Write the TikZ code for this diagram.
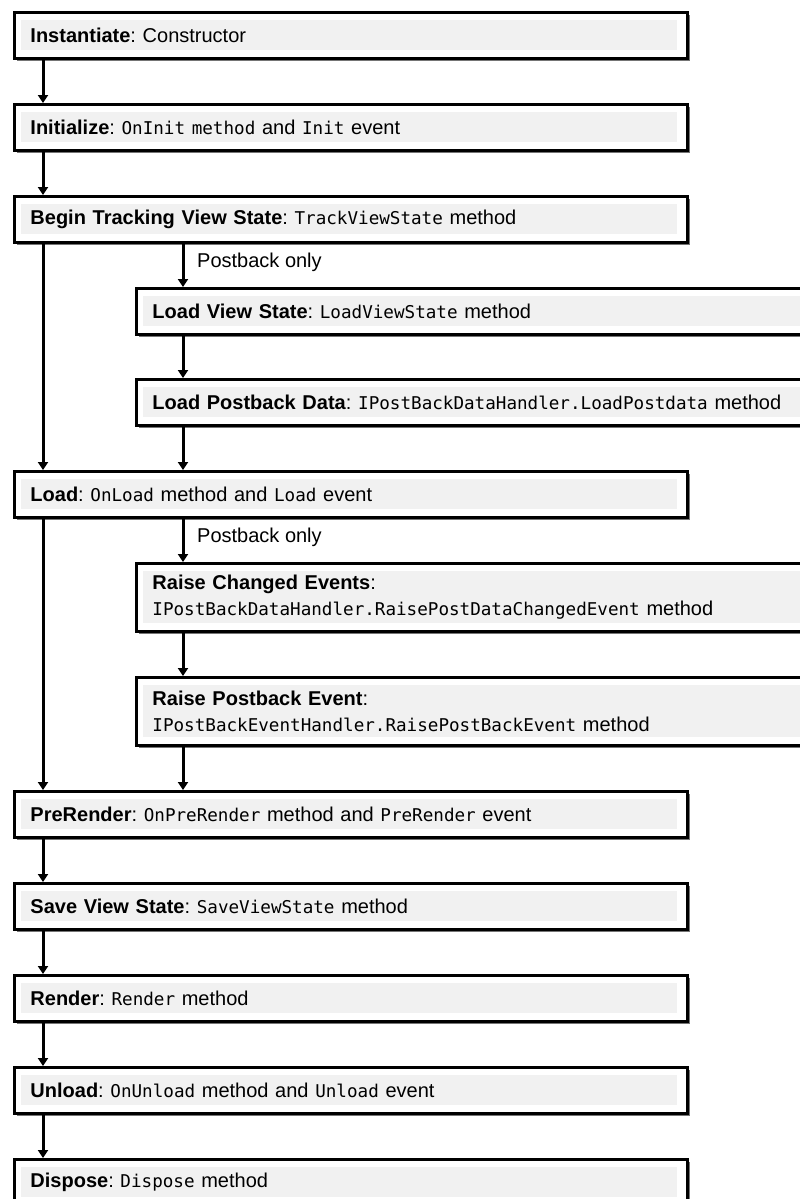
\documentclass[tikz,border=0pt]{standalone}
\usepackage{fontspec}
\setmainfont{Liberation Sans}
\newfontfamily\codefont{DejaVu Sans Mono}
\usetikzlibrary{arrows.meta,shadows}
\definecolor{boxgray}{HTML}{F1F1F1}
\frenchspacing
\newcommand\cd[1]{{\codefont\fontsize{17.6}{26}\selectfont #1}}
\begin{document}
\begin{tikzpicture}[x=1pt,y=-1pt,
  box/.style={draw=black, line width=2.9pt, fill=white, rectangle, anchor=north west,
    inner xsep=16pt, inner ysep=2pt, align=left, font=\fontsize{20}{26}\selectfont\frenchspacing,
    drop shadow={shadow xshift=2.5pt,shadow yshift=-2.5pt,fill=black!60,opacity=0.9},
    path picture={\fill[boxgray] ([shift={(7pt,-8pt)}]path picture bounding box.north west) rectangle ([shift={(-10pt,8pt)}]path picture bounding box.south east);}},
  mainbox/.style={box, text width=641pt, minimum height=46pt},
  subbox/.style={box, text width=653pt, minimum height=46pt},
  arr/.style={line width=3pt, -{Triangle[length=8pt,width=10pt]}},
  lbl/.style={font=\fontsize{20}{24}\selectfont, anchor=west, inner sep=0pt}
]
\useasboundingbox (0,0) rectangle (800,1199);
\coordinate (mx) at (43,0);
\coordinate (sx) at (183,0);

\node[mainbox] (inst) at (13,11) {\textbf{Instantiate}: Constructor};
\node[mainbox] (init) at (13,103) {\textbf{Initialize}: \cd{OnInit method} and \cd{Init} event};
\node[mainbox] (track) at (13,195) {\textbf{Begin Tracking View State}: \cd{TrackViewState} method};
\node[subbox] (lvs) at (135,287) {\textbf{Load View State}: \cd{LoadViewState} method};
\node[subbox] (lpd) at (135,378) {\textbf{Load Postback Data}: \cd{IPostBackDataHandler.LoadPostdata} method};
\node[mainbox] (load) at (13,470) {\textbf{Load}: \cd{OnLoad} method and \cd{Load} event};
\node[subbox, minimum height=68pt] (rce) at (135,562) {\textbf{Raise Changed Events}:\\\cd{IPostBackDataHandler.RaisePostDataChangedEvent} method};
\node[subbox, minimum height=68pt] (rpe) at (135,676) {\textbf{Raise Postback Event}:\\\cd{IPostBackEventHandler.RaisePostBackEvent} method};
\node[mainbox] (pre) at (13,790) {\textbf{PreRender}: \cd{OnPreRender} method and \cd{PreRender} event};
\node[mainbox] (svs) at (13,882) {\textbf{Save View State}: \cd{SaveViewState} method};
\node[mainbox] (rend) at (13,974) {\textbf{Render}: \cd{Render} method};
\node[mainbox] (unl) at (13,1066) {\textbf{Unload}: \cd{OnUnload} method and \cd{Unload} event};
\node[mainbox] (disp) at (13,1158) {\textbf{Dispose}: \cd{Dispose} method};

\node[lbl] (pb1) at (197,262) {Postback only};
\node[lbl] (pb2) at (197,537) {Postback only};

\draw[arr] (inst.south -| mx) -- (init.north -| mx);
\draw[arr] (init.south -| mx) -- (track.north -| mx);
\draw[arr] (track.south -| mx) -- (load.north -| mx);
\draw[arr] (track.south -| sx) -- (lvs.north -| sx);
\draw[arr] (lvs.south -| sx) -- (lpd.north -| sx);
\draw[arr] (lpd.south -| sx) -- (load.north -| sx);
\draw[arr] (load.south -| mx) -- (pre.north -| mx);
\draw[arr] (load.south -| sx) -- (rce.north -| sx);
\draw[arr] (rce.south -| sx) -- (rpe.north -| sx);
\draw[arr] (rpe.south -| sx) -- (pre.north -| sx);
\draw[arr] (pre.south -| mx) -- (svs.north -| mx);
\draw[arr] (svs.south -| mx) -- (rend.north -| mx);
\draw[arr] (rend.south -| mx) -- (unl.north -| mx);
\draw[arr] (unl.south -| mx) -- (disp.north -| mx);
\end{tikzpicture}
\end{document}
